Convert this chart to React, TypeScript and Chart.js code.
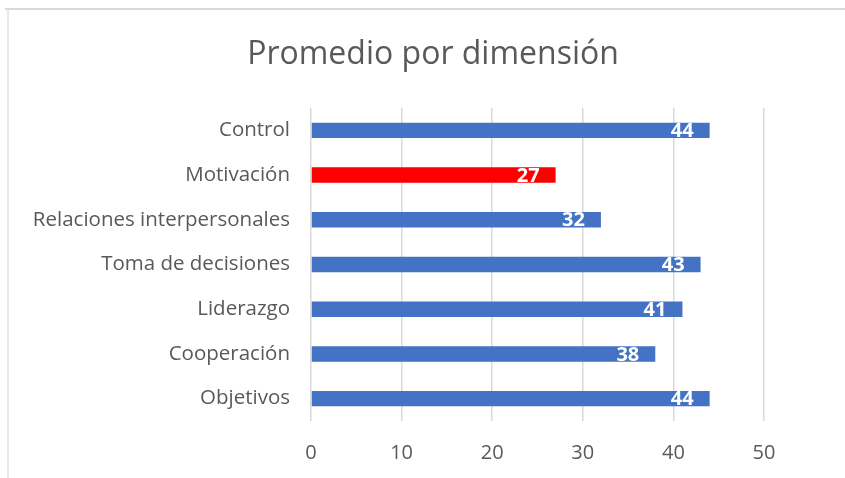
import React, { useEffect, useRef } from "react";
import { Chart, registerables } from "chart.js";

Chart.register(...registerables);

const chartTitle = "Promedio por dimensión";
const categories = [
  "Control",
  "Motivación",
  "Relaciones interpersonales",
  "Toma de decisiones",
  "Liderazgo",
  "Cooperación",
  "Objetivos",
];
const values = [44, 27, 32, 43, 41, 38, 44];
const highlighted = "Motivación";
const xMin = 0;
const xMax = 50;
const xStep = 10;

const FONT = "'Open Sans', 'Noto Sans', sans-serif";
const TEXT = "#595959";
const GRID = "#d9d9d9";

export default function App() {
  const ref = useRef<HTMLCanvasElement | null>(null);

  useEffect(() => {
    if (!ref.current) return;
    const framePlugin = {
      id: "frame",
      beforeDraw(chart: any) {
        const ctx = chart.ctx;
        ctx.save();
        ctx.fillStyle = "#ffffff";
        ctx.fillRect(0, 0, chart.width, chart.height);
        ctx.strokeStyle = GRID;
        ctx.lineWidth = 2;
        ctx.beginPath();
        ctx.moveTo(5, 9);
        ctx.lineTo(chart.width, 9);
        ctx.stroke();
        ctx.lineWidth = 1.2;
        ctx.beginPath();
        ctx.moveTo(8, 9);
        ctx.lineTo(8, chart.height);
        ctx.stroke();
        ctx.restore();
      },
      afterDraw(chart: any) {
        const ctx = chart.ctx;
        ctx.save();
        ctx.fillStyle = TEXT;
        ctx.font = `32px ${FONT}`;
        ctx.textAlign = "center";
        ctx.textBaseline = "middle";
        ctx.fillText(chartTitle, 433, 55);
        ctx.restore();
      },
    };
    const labelPlugin = {
      id: "barLabels",
      afterDatasetsDraw(chart: any) {
        const ctx = chart.ctx;
        const meta = chart.getDatasetMeta(0);
        ctx.save();
        ctx.fillStyle = "#ffffff";
        ctx.font = `bold 20px ${FONT}`;
        ctx.textAlign = "right";
        ctx.textBaseline = "middle";
        meta.data.forEach((bar: any, i: number) => {
          ctx.fillText(String(values[i]), bar.x - 16, bar.y + 1);
        });
        ctx.restore();
      },
    };

    const chart = new Chart(ref.current, {
      type: "bar",
      data: {
        labels: categories,
        datasets: [
          {
            data: values,
            backgroundColor: categories.map((c) =>
              c === highlighted ? "#FF0000" : "#4472C4"
            ),
            barPercentage: 0.345,
            categoryPercentage: 1,
          },
        ],
      },
      options: {
        indexAxis: "y",
        responsive: false,
        animation: false,
        events: [],
        layout: { padding: { top: 108, right: 81, bottom: 0, left: 0 } },
        plugins: {
          legend: { display: false },
          title: { display: false },
          tooltip: { enabled: false },
        },
        scales: {
          x: {
            min: xMin,
            max: xMax,
            ticks: {
              stepSize: xStep,
              color: TEXT,
              font: { family: FONT, size: 20 },
              padding: 20,
            },
            grid: { color: GRID, lineWidth: 1.5, drawTicks: false },
            border: { display: false },
            afterFit(scale: any) {
              scale.height = 57;
            },
          },
          y: {
            ticks: {
              color: TEXT,
              font: { family: FONT, size: 20.5 },
              padding: 21,
            },
            grid: { display: false, drawTicks: false },
            border: { display: false },
            afterFit(scale: any) {
              scale.width = 311;
            },
          },
        },
      },
      plugins: [framePlugin, labelPlugin],
    } as any);
    return () => chart.destroy();
  }, []);

  return (
    <div style={{ position: "absolute", left: 0, top: 0, width: 845, height: 478 }}>
      <canvas ref={ref} width={845} height={478} style={{ display: "block" }} />
    </div>
  );
}
